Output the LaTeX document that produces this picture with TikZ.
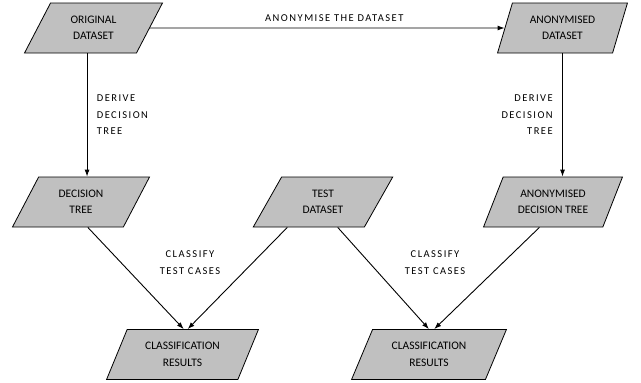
\documentclass[tikz,border=0pt]{standalone}
\usepackage{fontspec}
\usepackage{xcolor}
\usepackage{tikz}
\usetikzlibrary{shapes.geometric,arrows.meta,calc}
\setmainfont{Carlito}
\newfontfamily\labelfont[LetterSpace=14]{Carlito}
\definecolor{boxgray}{RGB}{192,192,192}

\begin{document}
\begin{tikzpicture}[x=1pt, y=-1pt,
    box/.style={draw, line width=0.8pt, fill=boxgray, trapezium,
        trapezium left angle=60, trapezium right angle=120,
        trapezium stretches=true, minimum width=139pt, minimum height=50pt,
        inner sep=0pt, align=center, font=\fontsize{11.5}{16.5}\selectfont},
    flow/.style={-{Latex[length=7pt,width=5pt]}, line width=0.9pt},
    lbl/.style={font=\labelfont\fontsize{10.5}{16.5}\selectfont}]
    \useasboundingbox (0,0) rectangle (641,383);

    \node[box] at (93.5,28) (orig) {ORIGINAL\\DATASET};
    \node[box, trapezium left angle=68, trapezium right angle=112, minimum width=131pt] at (562.5,28) (anon) {ANONYMISED\\DATASET};
    \node[box, minimum width=138pt] at (81,202) (dtree) {DECISION\\TREE};
    \node[box, minimum width=140pt] at (323,202) (test) {TEST\\DATASET};
    \node[box, minimum width=140pt] at (553,202) (adtree) {ANONYMISED\\DECISION TREE};
    \node[box, minimum width=152pt] at (182.5,354.5) (resA) {CLASSIFICATION\\RESULTS};
    \node[box, minimum width=155pt] at (429,354.5) (resB) {CLASSIFICATION\\RESULTS};

    \draw[flow] (orig.east) -- node[lbl, above=3pt, pos=0.52] {ANONYMISE THE DATASET} (anon.west);
    \draw[flow] ($(orig.bottom left corner)!0.56!(orig.bottom right corner)$) coordinate (o1)
        -- node[lbl, right=6pt, align=left] {DERIVE\\DECISION\\TREE} (o1 |- dtree.north);
    \draw[flow] (anon.south) -- node[lbl, left=6pt, align=right] {DERIVE\\DECISION\\TREE} (anon.south |- adtree.north);

    \draw[flow] ($(dtree.bottom left corner)!0.68!(dtree.bottom right corner)$) -- ($(resA.top left corner)!0.43!(resA.top right corner)$);
    \draw[flow] ($(test.bottom left corner)!0.31!(test.bottom right corner)$) -- ($(resA.top left corner)!0.46!(resA.top right corner)$);
    \draw[flow] ($(test.bottom left corner)!0.76!(test.bottom right corner)$) -- ($(resB.top left corner)!0.42!(resB.top right corner)$);
    \draw[flow] ($(adtree.bottom left corner)!0.47!(adtree.bottom right corner)$) -- ($(resB.top left corner)!0.46!(resB.top right corner)$);

    \node[lbl, align=center] at (190,262.5) (classA) {CLASSIFY\\TEST CASES};
    \node[lbl, align=center] at (435,262.5) (classB) {CLASSIFY\\TEST CASES};
\end{tikzpicture}
\end{document}
